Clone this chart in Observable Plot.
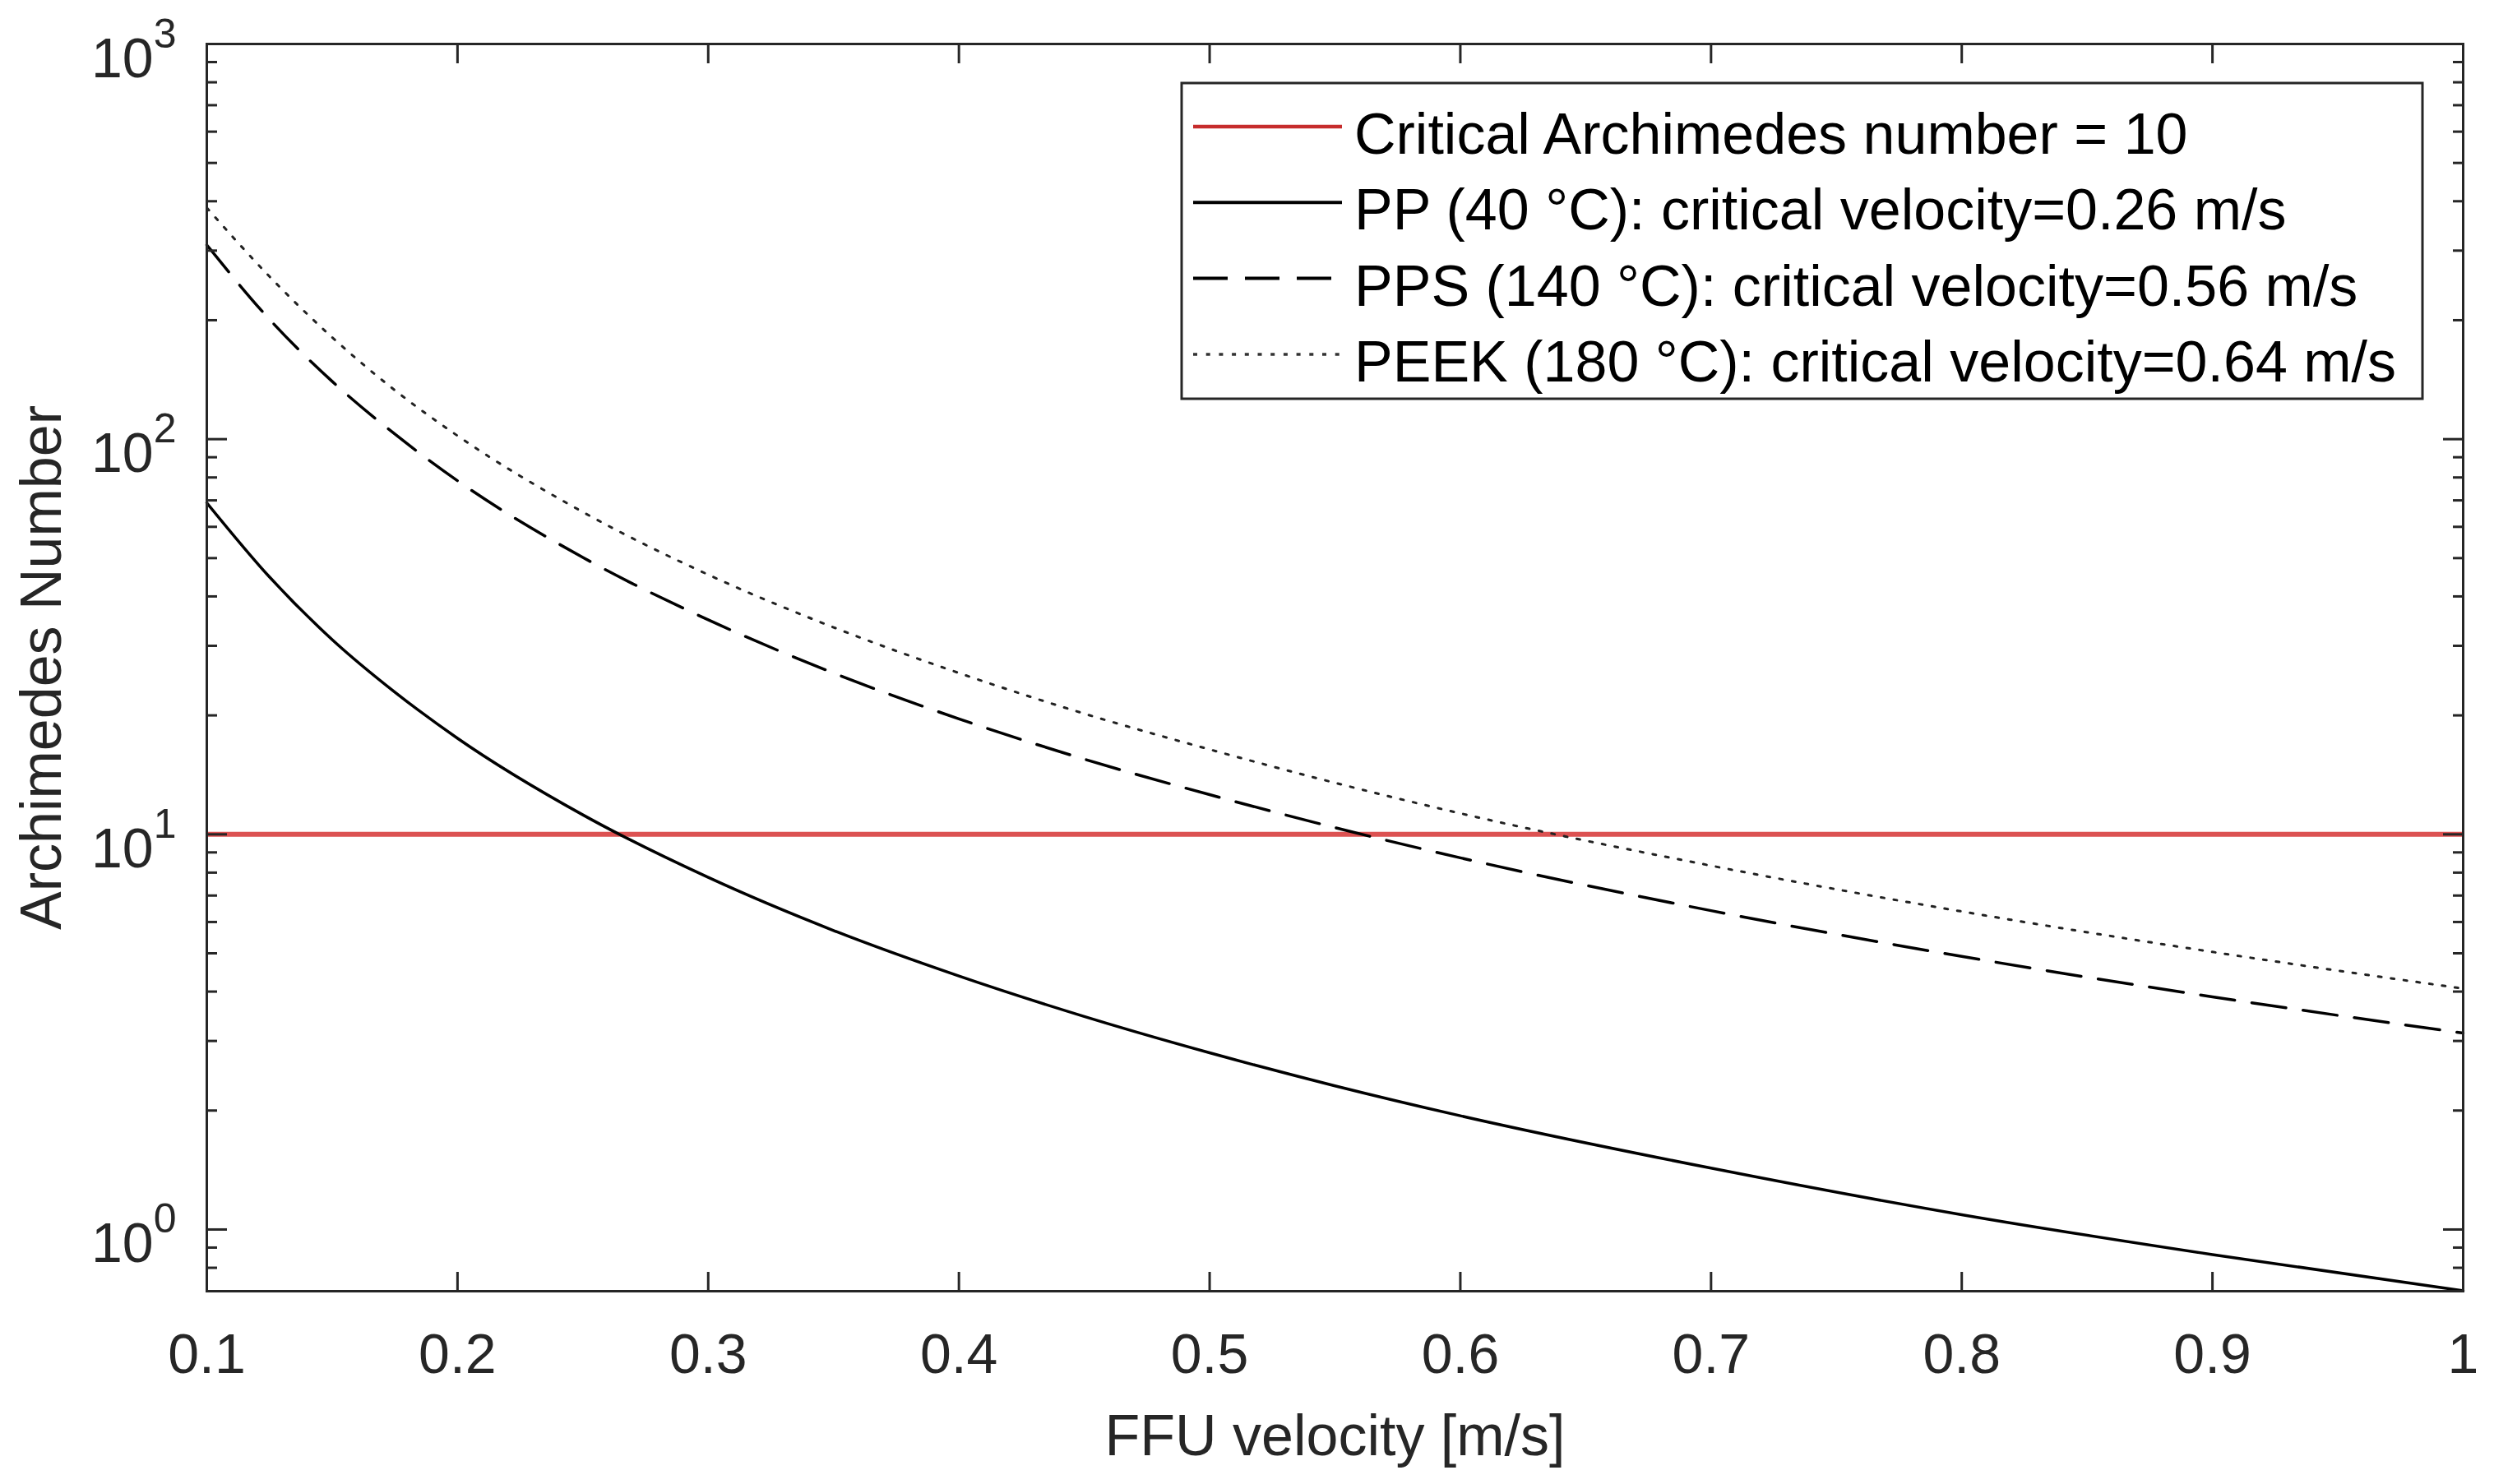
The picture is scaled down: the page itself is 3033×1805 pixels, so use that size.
<!DOCTYPE html>
<html>
<head>
<meta charset="utf-8">
<script src="https://cdn.jsdelivr.net/npm/d3@7"></script>
<script src="https://cdn.jsdelivr.net/npm/@observablehq/plot@0.6"></script>
<style>
  html, body { margin: 0; padding: 0; background: #ffffff; }
  #chart svg { display: block; }
</style>
</head>
<body>
<div id="chart"></div>
<script>
// ---- Data ----
const velocity = [0.1, 0.125, 0.15, 0.175, 0.2, 0.25, 0.3, 0.35, 0.4, 0.45, 0.5, 0.55, 0.6, 0.7, 0.8, 0.9, 1.0];
const arPP   = [69, 44.8, 31.1, 22.9, 17.5, 11.2, 7.78, 5.71, 4.38, 3.46, 2.80, 2.31, 1.94, 1.43, 1.09, 0.864, 0.70];
const arPPS  = [310, 201, 140, 103, 78.5, 50.2, 34.9, 25.6, 19.6, 15.5, 12.6, 10.4, 8.72, 6.41, 4.91, 3.88, 3.14];
const arPEEK = [385, 258, 181, 133, 102, 65.4, 45.4, 33.4, 25.6, 20.2, 16.4, 13.5, 11.3, 8.33, 6.38, 5.04, 4.07];
const criticalAr = 10;

const seriesNames = [
  "Critical Archimedes number = 10",
  "PP (40 °C): critical velocity=0.26 m/s",
  "PPS (140 °C): critical velocity=0.56 m/s",
  "PEEK (180 °C): critical velocity=0.64 m/s"
];

const xTicks = [0.1, 0.2, 0.3, 0.4, 0.5, 0.6, 0.7, 0.8, 0.9, 1];
const yMajorTicks = [1, 10, 100, 1000];
const yMinorTicks = [0.8, 0.9, 2, 3, 4, 5, 6, 7, 8, 9, 20, 30, 40, 50, 60, 70, 80, 90, 200, 300, 400, 500, 600, 700, 800, 900];
const xDomain = [0.1, 1];
const yDomain = [0.698, 1000];
const xLabel = "FFU velocity [m/s]";
const yLabel = "Archimedes Number";

// ---- Table built from the arrays ----
const rows = velocity.map((v, i) => ({v, pp: arPP[i], pps: arPPS[i], peek: arPEEK[i]}));

// ---- Styles ----
const axisColor = "#262626";
const font = "'Liberation Sans', Arial, Helvetica, sans-serif";
const redColor = "#dc5252";

const chart = Plot.plot({
  width: 3033,
  height: 1805,
  marginLeft: 251,
  marginRight: 38,
  marginTop: 53,
  marginBottom: 235,
  style: {fontFamily: font, fontSize: "68px", color: axisColor, background: "#ffffff"},
  x: {type: "linear", domain: xDomain},
  y: {type: "log", domain: yDomain},
  marks: [
    // critical line
    Plot.ruleY([criticalAr], {stroke: redColor, strokeWidth: 6}),
    // curves
    Plot.line(rows, {x: "v", y: "pp", stroke: "#000000", strokeWidth: 3.5, curve: "monotone-x"}),
    Plot.line(rows, {x: "v", y: "pps", stroke: "#000000", strokeWidth: 3.5, strokeDasharray: "42,21", curve: "monotone-x"}),
    Plot.line(rows, {x: "v", y: "peek", stroke: "#222222", strokeWidth: 3, strokeDasharray: "4,11.7", curve: "monotone-x"}),
    // frame (box on)
    Plot.frame({stroke: axisColor, strokeWidth: 3}),
    // inward ticks: x bottom & top
    Plot.axisX(xTicks, {anchor: "bottom", tickSize: 23, dy: -23, fill: "none", label: null, stroke: axisColor, strokeWidth: 3}),
    Plot.axisX(xTicks, {anchor: "top", tickSize: 23, dy: 23, fill: "none", label: null, stroke: axisColor, strokeWidth: 3}),
    // inward ticks: y left & right, major and minor
    Plot.axisY(yMajorTicks, {anchor: "left", tickSize: 25, dx: 25, fill: "none", label: null, stroke: axisColor, strokeWidth: 3}),
    Plot.axisY(yMinorTicks, {anchor: "left", tickSize: 13, dx: 13, fill: "none", label: null, stroke: axisColor, strokeWidth: 3}),
    Plot.axisY(yMajorTicks, {anchor: "right", tickSize: 25, dx: -25, fill: "none", label: null, stroke: axisColor, strokeWidth: 3}),
    Plot.axisY(yMinorTicks, {anchor: "right", tickSize: 13, dx: -13, fill: "none", label: null, stroke: axisColor, strokeWidth: 3}),
    // tick labels
    Plot.axisX(xTicks, {anchor: "bottom", tickSize: 0, tickPadding: 51, stroke: "none", label: null,
      fill: axisColor, fontSize: 68, tickFormat: d => String(d)}),
    Plot.axisY(yMajorTicks, {anchor: "left", tickSize: 0, tickPadding: 37, stroke: "none", label: null,
      fill: axisColor, fontSize: 68, tickFormat: d => `10^${Math.round(Math.log10(d))}`}),
    // axis titles
    Plot.text([xLabel], {frameAnchor: "bottom", dy: 177, fontSize: 70, fill: axisColor,
      textAnchor: "middle", lineAnchor: "middle"}),
    Plot.text([yLabel], {frameAnchor: "left", dx: -200, rotate: -90, fontSize: 70, fill: axisColor,
      textAnchor: "middle", lineAnchor: "middle"})
  ]
});

document.getElementById("chart").appendChild(chart);

// ---- Superscript exponents on the y tick labels ----
const svg = d3.select(chart);
svg.selectAll('g[aria-label="y-axis tick label"] text').each(function () {
  const parts = this.textContent.split("^");
  if (parts.length !== 2) return;
  this.textContent = "";
  this.setAttribute("y", "40");
  const t = d3.select(this);
  t.append("tspan").text(parts[0]);
  t.append("tspan").attr("dy", -36).attr("font-size", 50).text(parts[1]);
});

// ---- Legend (MATLAB-style box, upper right) ----
const legendStyles = [
  {stroke: "#c62c2c", width: 4.5, dash: null},
  {stroke: "#000000", width: 4, dash: null},
  {stroke: "#000000", width: 4, dash: "42,21"},
  {stroke: "#333333", width: 3.5, dash: "5,10.7"}
];
const legend = svg.append("g").attr("class", "legend");
legend.append("rect")
  .attr("x", 1437).attr("y", 101).attr("width", 1509).attr("height", 384)
  .attr("fill", "#ffffff").attr("stroke", axisColor).attr("stroke-width", 3);
seriesNames.forEach((name, i) => {
  const base = 187 + i * 92.3;
  const st = legendStyles[i];
  const ln = legend.append("line")
    .attr("x1", 1451).attr("x2", 1632)
    .attr("y1", base - 33).attr("y2", base - 33)
    .attr("stroke", st.stroke).attr("stroke-width", st.width);
  if (st.dash) ln.attr("stroke-dasharray", st.dash);
  legend.append("text")
    .attr("x", 1647).attr("y", base)
    .attr("text-anchor", "start")
    .attr("font-family", font).attr("font-size", 70).attr("fill", "#000000")
    .text(name);
});
</script>
</body>
</html>
